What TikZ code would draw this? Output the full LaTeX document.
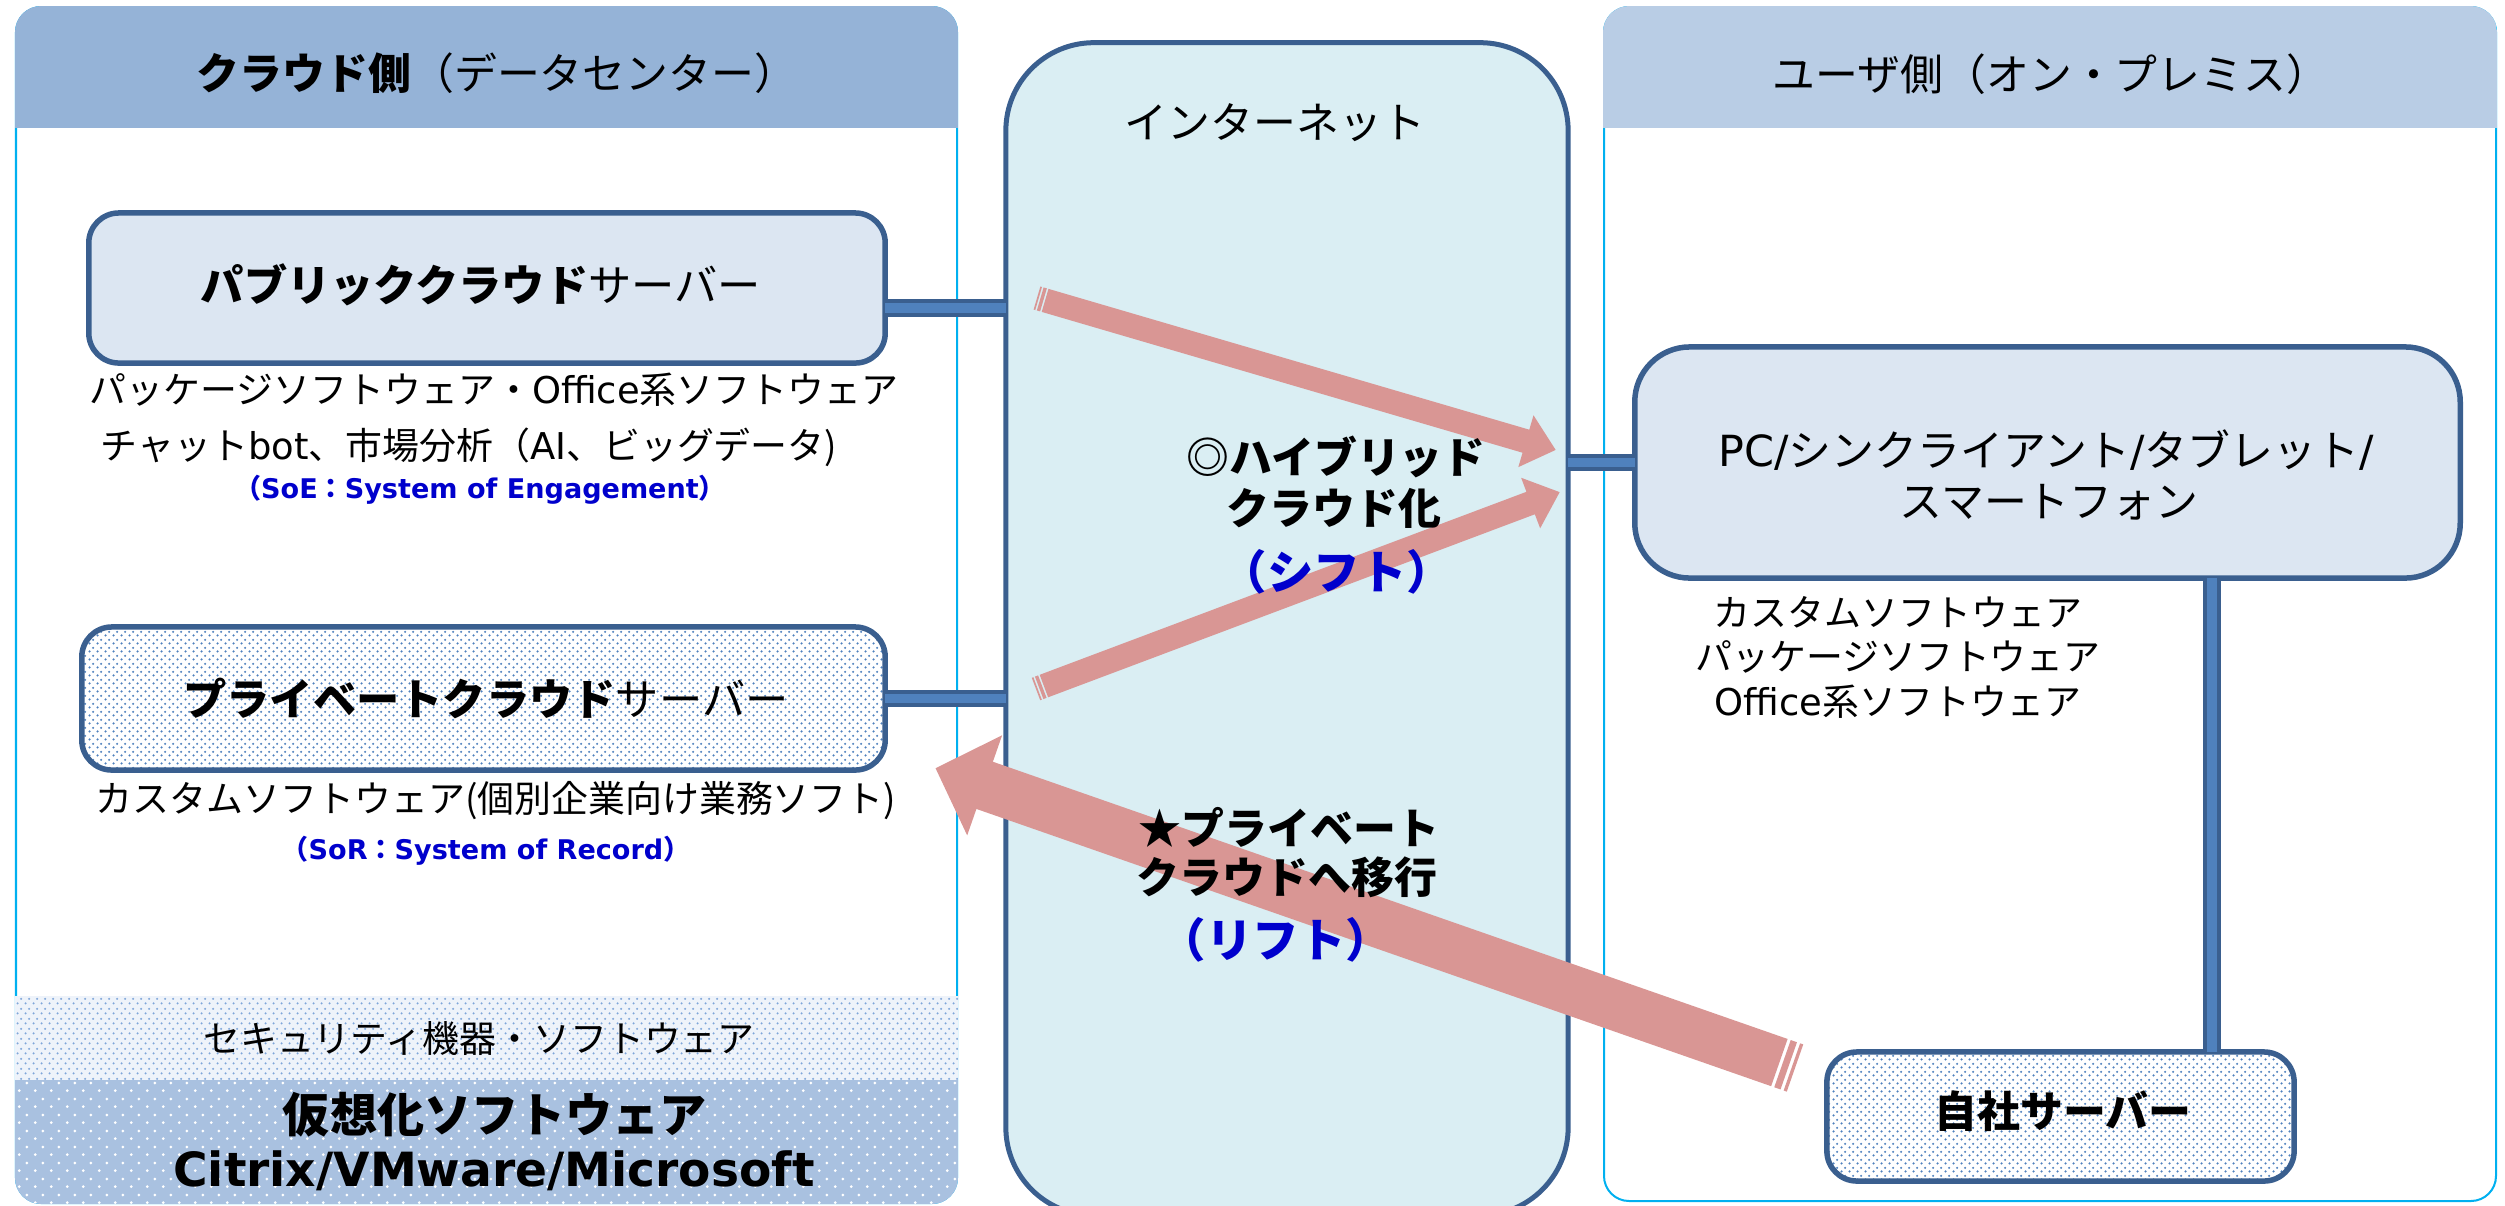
\documentclass[tikz,border=0pt]{standalone}
\usepackage{fontspec}
\setmainfont{Noto Sans CJK JP}
\newfontfamily\lat{DejaVu Sans}
\usetikzlibrary{patterns,calc}

\definecolor{dkb}{HTML}{3A5F8F}
\definecolor{cfill}{HTML}{4F81BD}
\definecolor{boxfill}{HTML}{DCE6F2}
\definecolor{inetfill}{HTML}{DAEEF3}
\definecolor{apink}{HTML}{D99694}
\definecolor{lhdr}{HTML}{95B3D7}
\definecolor{rhdr}{HTML}{B9CDE5}
\definecolor{cyanl}{HTML}{00B0F0}
\definecolor{dblue}{HTML}{0000CC}
\definecolor{virtf}{HTML}{A9C1E0}
\definecolor{secf}{HTML}{EEF3FA}
\definecolor{dotb}{HTML}{4F81BD}
\definecolor{secdot}{HTML}{7FA6D9}

\pgfdeclarepatternformonly{pdots}{\pgfqpoint{0pt}{0pt}}{\pgfqpoint{2.276pt}{2.276pt}}{\pgfqpoint{2.276pt}{2.276pt}}{%
  \pgfpathcircle{\pgfqpoint{0.5pt}{0.5pt}}{0.38pt}%
  \pgfpathcircle{\pgfqpoint{1.638pt}{1.638pt}}{0.38pt}\pgfusepath{fill}}
\pgfdeclarepatternformonly{sdots}{\pgfqpoint{0pt}{0pt}}{\pgfqpoint{2.276pt}{2.845pt}}{\pgfqpoint{2.276pt}{2.845pt}}{%
  \pgfpathcircle{\pgfqpoint{0.5pt}{0.5pt}}{0.36pt}%
  \pgfpathcircle{\pgfqpoint{1.638pt}{1.92pt}}{0.36pt}\pgfusepath{fill}}
\pgfdeclarepatternformonly{vdots}{\pgfqpoint{0pt}{0pt}}{\pgfqpoint{4.55pt}{4.55pt}}{\pgfqpoint{4.55pt}{4.55pt}}{%
  \pgfpathcircle{\pgfqpoint{1pt}{1pt}}{0.45pt}%
  \pgfpathcircle{\pgfqpoint{3.275pt}{3.275pt}}{0.45pt}\pgfusepath{fill}}

\newcommand\stripedarrow[5]{%
  \path let \p1=($(#2)-(#1)$) in \pgfextra{%
    \pgfmathsetmacro\tmpa{atan2(\y1,\x1)}\xdef\arrang{\tmpa}%
    \pgfmathsetmacro\tmpb{veclen(\x1,\y1)/0.284528}\xdef\arrlen{\tmpb}};
  \begin{scope}[shift={(#1)},rotate=\arrang,x=0.01cm,y=0.01cm]
    \pgfmathsetmacro\ssz{2*#4}
    \fill[apink] (0,-#3) rectangle (\ssz/32,#3);
    \fill[apink] (\ssz/16,-#3) rectangle (\ssz/8,#3);
    \fill[apink] (5*\ssz/32,-#3) -- (\arrlen-#5,-#3) -- (\arrlen-#5,-#4) -- (\arrlen,0)
      -- (\arrlen-#5,#4) -- (\arrlen-#5,#3) -- (5*\ssz/32,#3) -- cycle;
  \end{scope}}

\tikzset{
  box/.style={draw=dkb, line width=0.055cm, rounded corners=0.3cm, fill=boxfill, inner sep=0pt, outer sep=0pt},
  dotbox/.style={box, fill=none, preaction={fill=white}, pattern=pdots, pattern color=dotb},
  inetbox/.style={draw=dkb, line width=0.05cm, rounded corners=0.88cm, fill=inetfill, inner sep=0pt, outer sep=0pt},
  conn/.style={draw=dkb, line width=0.04cm, double=cfill, double distance=0.095cm},
  txt/.style={inner sep=0pt, font=\fontsize{12.2}{14}\selectfont},
  boxtxt/.style={inner sep=0pt, font=\fontsize{12.3}{14}\selectfont},
  captxt/.style={inner sep=0pt, font=\fontsize{10.5}{12.8}\selectfont},
  systxt/.style={inner sep=0pt, text=dblue, font=\fontsize{7.7}{9}\selectfont\bfseries},
  bigtxt/.style={inner sep=0pt, font=\fontsize{13.4}{16}\selectfont\bfseries},
  lbltxt/.style={inner sep=0pt, font=\fontsize{12.2}{14}\selectfont\bfseries},
  bluelbl/.style={inner sep=0pt, text=dblue, font=\fontsize{13.2}{15}\selectfont\bfseries},
  panelline/.style={draw=cyanl, line width=0.02cm, fill=white, rounded corners=0.25cm}
}

\begin{document}
\begin{tikzpicture}[x=0.01cm,y=-0.01cm]
\useasboundingbox (0,0) rectangle (2505,1205);
\clip (0,0) rectangle (2505,1205);

% ---- left panel (cloud side)
\draw[panelline] (16,7) rectangle (957,1203);
\begin{scope}
  \clip[rounded corners=0.26cm] (15,6) rectangle (958,1204);
  \fill[lhdr] (15,6) rectangle (958,128);
  \fill[secf] (15,996) rectangle (958,1080);
  \fill[pattern=sdots, pattern color=secdot] (15,996) rectangle (958,1080);
  \fill[virtf] (15,1080) rectangle (958,1204);
  \fill[pattern=vdots, pattern color=white] (15,1080) rectangle (958,1204);
\end{scope}

% ---- right panel (user side)
\draw[panelline] (1604,7) rectangle (2496,1201);
\begin{scope}
  \clip[rounded corners=0.26cm] (1603,6) rectangle (2497,1202);
  \fill[rhdr] (1603,6) rectangle (2497,128);
\end{scope}

% ---- boxes
\node[inetbox, minimum width=5.62cm, minimum height=11.72cm] (inet) at (1287,629) {};
\node[box, minimum width=7.96cm, minimum height=1.50cm] (pub) at (487,288) {};
\node[dotbox, minimum width=8.03cm, minimum height=1.43cm] (priv) at (483.5,698.5) {};
\node[box, rounded corners=0.55cm, minimum width=8.25cm, minimum height=2.31cm] (pc) at (2047.5,462.5) {};
\node[dotbox, minimum width=4.67cm, minimum height=1.29cm] (jisha) at (2060.5,1116.5) {};

% ---- connectors
\coordinate (pubY) at (950,308);
\coordinate (vX) at (2212,800);
\draw[conn] (pub.east |- pubY) -- (inet.west |- pubY);
\draw[conn] (priv.east) -- (inet.west |- priv.east);
\draw[conn] (inet.east |- pc.west) -- (pc.west);
\draw[conn] (pc.south -| vX) -- (jisha.north -| vX);

% ---- headers
\node[txt] (ltitle) at (497,73) {{\bfseries クラウド側}（データセンター）};
\node[txt] (rtitle) at (2051,74) {ユーザ側（オン・プレミス）};
\node[txt] (inettxt) at (1275,123) {インターネット};

% ---- left side texts
\node[boxtxt] (pubtxt) at (481,285) {{\bfseries パブリッククラウド}サーバー};
\node[captxt] (cap1) at (494,390) {パッケージソフトウェア・{\lat Office}系ソフトウェア};
\node[captxt] (cap2) at (469,447) {チャット{\lat bot}、市場分析（{\lat AI}、ビッグデータ)};
\node[systxt] (soe) at (480,490) {（{\lat SoE}：{\lat System of Engagement}）};
\node[boxtxt] (privtxt) at (486,698) {{\bfseries プライベートクラウド}サーバー};
\node[captxt] (cap3) at (496,801) {カスタムソフトウェア(個別企業向け業務ソフト)};
\node[systxt] (sor) at (486,851) {（{\lat SoR}：{\lat System of Record}）};
\node[captxt] (sec) at (479,1038) {セキュリティ機器・ソフトウェア};
\node[bigtxt] (virt1) at (495,1115) {仮想化ソフトウェア};
\node[bigtxt] (virt2) at (494,1171) {{\lat Citrix/VMware/Microsoft}};

% ---- right side texts
\node[txt] (pc1) at (2046,450) {{\lat PC/}シンクライアント{\lat /}タブレット{\lat /}};
\node[txt] (pc2) at (2049,502) {スマートフォン};
\node[captxt] (rc1) at (1898,612) {カスタムソフトウェア};
\node[captxt] (rc2) at (1898,657) {パッケージソフトウェア};
\node[captxt] (rc3) at (1898,702) {{\lat Office}系ソフトウェア};
\node[lbltxt] (jishatxt) at (2063,1111) {自社サーバー};

% ---- arrows
\coordinate (a1s) at (1037,298); \coordinate (a1e) at (1556,450);
\coordinate (a2s) at (1036,689); \coordinate (a2e) at (1560,492);
\coordinate (a3s) at (1795,1068); \coordinate (a3e) at (935,768);
\stripedarrow{a1s}{a1e}{12}{27}{31}
\stripedarrow{a2s}{a2e}{12}{27}{31}
\stripedarrow{a3s}{a3e}{25}{53}{52}

% ---- arrow labels
\node[lbltxt] (hy1) at (1336,457) {◎ハイブリッド};
\node[lbltxt] (hy2) at (1334,508) {クラウド化};
\node[bluelbl] (hy3) at (1337,572) {（シフト）};
\node[lbltxt] (lf1) at (1289,827) {★プライベート};
\node[lbltxt] (lf2) at (1287,877) {クラウドへ移行};
\node[bluelbl] (lf3) at (1276,940) {（リフト）};
\end{tikzpicture}
\end{document}
